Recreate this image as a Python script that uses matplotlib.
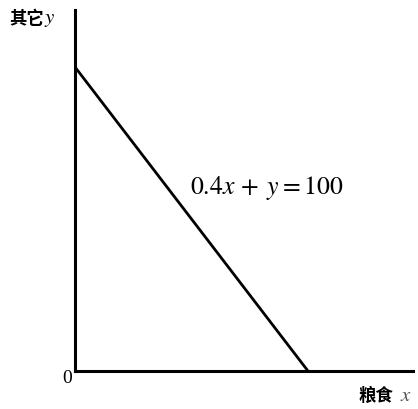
import matplotlib
matplotlib.use("Agg")
import matplotlib.pyplot as plt
import numpy as np

plt.rcParams['font.family'] = ['Noto Sans CJK SC', 'DejaVu Sans']
plt.rcParams['mathtext.fontset'] = 'stix'

# budget line 0.4x + y = 100
a = 0.4
total = 100
line_x = [0, total / a]
line_y = [total, 0]

fig = plt.figure(figsize=(4.18, 4.10), dpi=100)
ax = fig.add_axes([75 / 418, 38 / 410, 338 / 418, 361 / 410])
ax.plot(line_x, line_y, color='black', lw=2.0, solid_capstyle='butt')
ax.set_xlim(0, 362.7)
ax.set_ylim(0, 118.75)
for s in ['top', 'right']:
    ax.spines[s].set_visible(False)
for s in ['left', 'bottom']:
    ax.spines[s].set_linewidth(2.2)
ax.set_xticks([])
ax.set_yticks([])

fig.text(190 / 418, 1 - 188 / 410, r'$0.4x\,+\;y=100$', fontsize=18.5, ha='left', va='center')
fig.text(9 / 418, 1 - 19 / 410, '其它', fontsize=12.5, fontweight='bold', va='center', ha='left')
fig.text(44 / 418, 1 - 18 / 410, r'$y$', fontsize=15, va='center', ha='left')
fig.text(62 / 418, 1 - 379 / 410, '0', fontsize=14, va='center', ha='left', family='Liberation Serif')
fig.text(359 / 418, 1 - 396 / 410, '粮食', fontsize=12.5, fontweight='bold', va='center', ha='left')
fig.text(400 / 418, 1 - 395 / 410, r'$x$', fontsize=15, va='center', ha='left', color='#555555')

fig.savefig('out.png', dpi=100)
